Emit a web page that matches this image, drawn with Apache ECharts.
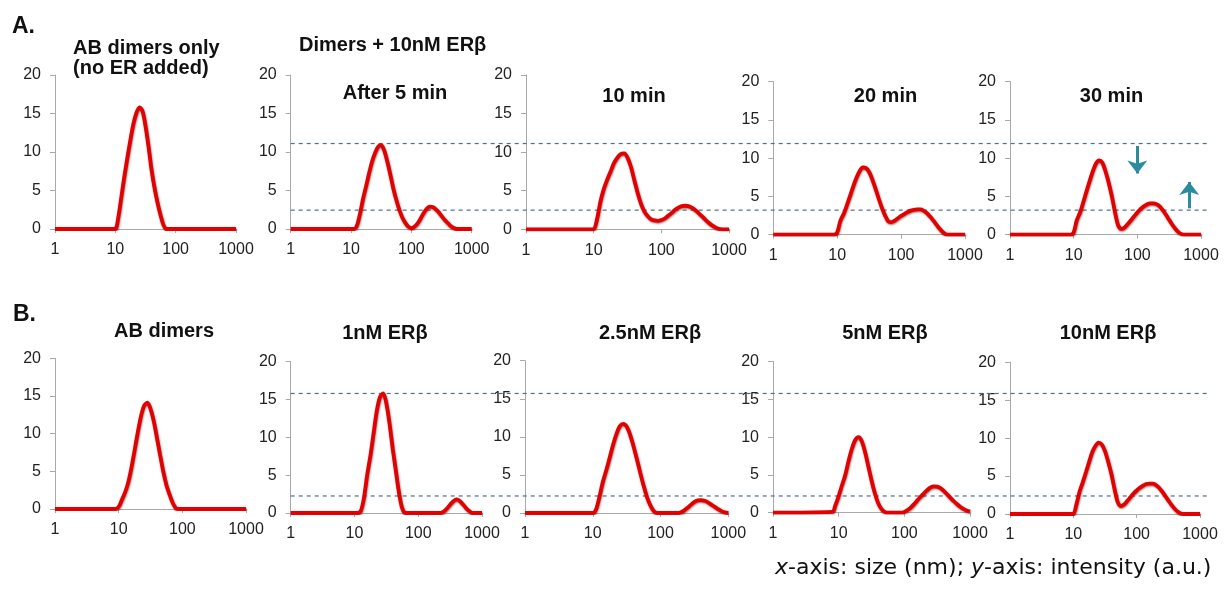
<!DOCTYPE html>
<html>
<head>
<meta charset="utf-8">
<script src="https://cdn.jsdelivr.net/npm/echarts@6/dist/echarts.min.js"></script>
<style>
html,body{margin:0;padding:0;background:#fff;}
#chart{width:1228px;height:589px;}
</style>
</head>
<body>
<div id="chart"></div>
<script>
// ---- data ----
// particle size (nm) sample points: 1, then 10^0.90 ... 10^3.00 in 0.05-decade steps
const sizes = [1, 7.94, 8.91, 10, 11.2, 12.6, 14.1, 15.8, 17.8, 20, 22.4, 25.1, 28.2, 31.6, 35.5, 39.8, 44.7,
  50.1, 56.2, 63.1, 70.8, 79.4, 89.1, 100, 112, 126, 141, 158, 178, 200, 224, 251, 282, 316, 355, 398, 447,
  501, 562, 631, 708, 794, 891, 1000];
const xTickLabels = ['1', '10', '100', '1000'];
const yTicks = [0, 5, 10, 15, 20];

// Row A: AB dimers only, then dimers + 10nM ERβ after 5/10/20/30 min
const dimersOnlyA = [0,0,0,0,1.5,4.2,6.8,9.2,11.6,13.7,15.1,15.8,15.3,13.4,10.7,7.7,5.3,3.4,1.8,0.5,0,
  0,0,0,0,0,0,0,0,0,0,0,0,0,0,0,0,0,0,0,0,0,0,0];
const after5min = [0,0,0,0,0,0.5,2.0,3.9,5.6,7.3,8.8,9.9,10.7,10.9,10.2,8.8,7.1,5.3,3.8,2.5,1.5,0.8,0.3,
  0.1,0.3,0.7,1.3,2.0,2.6,2.9,2.85,2.6,2.2,1.7,1.2,0.8,0.4,0.15,0,0,0,0,0,0];
const after10min = [0,0,0,0,1.3,3.6,5.2,6.4,7.5,8.6,9.3,9.75,9.85,9.3,8.1,6.4,4.7,3.3,2.3,1.7,1.3,1.15,1.1,
  1.2,1.4,1.75,2.1,2.5,2.8,3.0,3.05,3.0,2.8,2.5,2.1,1.7,1.25,0.85,0.5,0.25,0.05,0,0,0];
const after20min = [0,0,0,0.3,1.8,2.7,3.8,5.0,6.3,7.45,8.3,8.8,8.7,8.2,7.2,6.0,4.7,3.5,2.5,1.75,1.65,1.85,2.15,
  2.45,2.7,2.95,3.15,3.25,3.3,3.3,3.15,2.85,2.4,1.9,1.35,0.8,0.35,0.05,0,0,0,0,0,0];
const after30min = [0,0,0,0.3,1.9,2.9,4.2,5.6,7.0,8.3,9.3,9.7,9.4,8.3,6.8,5.0,2.9,1.2,0.75,0.95,1.4,1.9,2.4,
  2.9,3.35,3.7,3.95,4.1,4.1,4.0,3.7,3.2,2.6,1.95,1.3,0.75,0.3,0.05,0,0,0,0,0,0];
// Row B: AB dimers, then 1 / 2.5 / 5 / 10 nM ERβ
const dimersB = [0,0,0,0.3,1.2,2.2,3.5,5.4,7.8,10.2,12.3,13.7,14.1,13.3,11.7,9.5,7.2,5.0,3.2,1.9,0.8,0.1,
  0,0,0,0,0,0,0,0,0,0,0,0,0,0,0,0,0,0,0,0,0,0];
const er1nM = [0,0,0,0,0,0.3,2.0,5.0,7.6,10.6,13.5,15.3,15.8,14.5,11.8,8.5,5.5,2.6,0.6,0,0,0,0,
  0,0,0,0,0,0,0,0,0.2,0.6,1.1,1.55,1.8,1.6,1.15,0.65,0.25,0,0,0,0];
const er2_5nM = [0,0,0,0,0.5,2.2,4.1,5.6,7.3,9.0,10.4,11.4,11.7,11.35,10.3,8.8,7.1,5.3,3.6,2.1,1.0,0.25,0,
  0,0,0,0,0,0,0.1,0.35,0.7,1.1,1.45,1.65,1.7,1.6,1.4,1.1,0.8,0.5,0.25,0.08,0];
const er5nM = [0,0.1,1.0,2.2,3.6,5.0,6.8,8.4,9.6,10,9.5,8.1,6.2,4.3,2.6,1.3,0.5,0.1,0,0,0,0,0,
  0.1,0.35,0.7,1.15,1.65,2.15,2.6,3.0,3.35,3.5,3.45,3.25,2.9,2.45,2.0,1.55,1.15,0.8,0.5,0.3,0.15];
const er10nM = [0,0,0,0,1.3,3.0,4.2,5.5,6.9,8.2,9.0,9.4,9.15,8.3,6.9,5.3,3.3,1.6,1.05,1.25,1.7,2.2,2.7,
  3.1,3.45,3.75,3.95,4.0,4.0,3.85,3.5,3.0,2.4,1.8,1.2,0.7,0.3,0.05,0,0,0,0,0,0];

const refLinesA = [11.1, 2.45];
const refLinesB = [15.8, 2.25];
const arrowDown = [100, 11.6, 8.0];   // x, yStart, yEnd
const arrowUp   = [653, 3.45, 6.9];

const panelTitles = ['AB dimers only\n(no ER added)', 'After 5 min', '10 min', '20 min', '30 min',
                     'AB dimers', '1nM ERβ', '2.5nM ERβ', '5nM ERβ', '10nM ERβ'];

// ---- layout ----
const panels = [
  {v: dimersOnlyA, l: 55,    w: 181,   t: 75,    h: 154},
  {v: after5min,   l: 290.7, w: 181,   t: 75,    h: 154},
  {v: after10min,  l: 526,   w: 203,   t: 75,    h: 154.3},
  {v: after20min,  l: 773.3, w: 191.7, t: 81.7,  h: 153},
  {v: after30min,  l: 1010,  w: 191,   t: 81.7,  h: 153},
  {v: dimersB,     l: 55,    w: 191,   t: 358.3, h: 150.7},
  {v: er1nM,       l: 290.7, w: 191.3, t: 361.7, h: 151.3},
  {v: er2_5nM,     l: 525,   w: 203.3, t: 360.7, h: 152.3},
  {v: er5nM,       l: 773,   w: 197,   t: 361.7, h: 151},
  {v: er10nM,      l: 1010,  w: 190,   t: 362.3, h: 151.7}
];
const titlePos = [
  {left: 73, top: 38, align: 'left'},
  {cx: 395, cy: 93.5}, {cx: 634, cy: 96}, {cx: 885.5, cy: 96}, {cx: 1111.5, cy: 96},
  {cx: 164, cy: 331}, {cx: 385, cy: 333}, {cx: 650, cy: 333}, {cx: 885, cy: 333}, {cx: 1108, cy: 333}
];

const FONT = '"Liberation Sans", Arial, sans-serif';
const axisGrey = '#a9a9a9';
const grids = [], xAxes = [], yAxes = [], series = [], titles = [];

panels.forEach((p, i) => {
  grids.push({left: p.l, top: p.t, width: p.w, height: p.h});
  xAxes.push({
    type: 'log', logBase: 10, min: 1, max: 1000, gridIndex: i, splitNumber: 3,
    axisLine: {show: true, lineStyle: {color: axisGrey, width: 1}},
    axisTick: {show: true, length: 4, lineStyle: {color: axisGrey}},
    splitLine: {show: false}, minorTick: {show: false},
    axisLabel: {color: '#222', fontFamily: FONT, fontSize: 16, margin: 13,
      formatter: v => { const k = Math.round(Math.log10(v)); return xTickLabels[k] !== undefined ? xTickLabels[k] : ''; }}
  });
  yAxes.push({
    type: 'value', min: yTicks[0], max: yTicks[yTicks.length - 1], interval: 5, gridIndex: i,
    axisLine: {show: true, lineStyle: {color: axisGrey, width: 1}},
    axisTick: {show: true, length: 5, lineStyle: {color: axisGrey}},
    splitLine: {show: false},
    axisLabel: {color: '#222', fontFamily: FONT, fontSize: 16, margin: 14}
  });
  const s = {
    type: 'line', xAxisIndex: i, yAxisIndex: i, smooth: 0.3, showSymbol: false, symbol: 'none',
    data: sizes.map((x, k) => [x, p.v[k]]),
    lineStyle: {color: '#e30000', width: 3.8, shadowColor: 'rgba(60,0,0,0.55)', shadowBlur: 2, shadowOffsetX: 0.5, shadowOffsetY: 1},
    z: 5
  };
  if (i === 4) {
    s.markLine = {
      silent: true, symbol: ['none', 'arrow'], symbolSize: [15, 13],
      label: {show: false},
      lineStyle: {color: '#2b8c9e', width: 3, type: 'solid'},
      data: [
        [{coord: [arrowDown[0], arrowDown[1]]}, {coord: [arrowDown[0], arrowDown[2]]}],
        [{coord: [arrowUp[0], arrowUp[1]]}, {coord: [arrowUp[0], arrowUp[2]]}]
      ]
    };
  }
  series.push(s);

  const tp = titlePos[i];
  if (tp.align === 'left') {
    titles.push({text: panelTitles[i], left: tp.left, top: tp.top, padding: 0,
      textStyle: {fontFamily: FONT, fontSize: 20, fontWeight: 'bold', color: '#111', lineHeight: 20}});
  } else {
    titles.push({text: panelTitles[i], left: tp.cx, top: tp.cy - 10, textAlign: 'center', padding: 0,
      textStyle: {fontFamily: FONT, fontSize: 20, fontWeight: 'bold', color: '#111'}});
  }
});

// dashed reference-line overlay grids (one per row)
const overlays = [
  {ref: refLinesA, l: 290.7, w: 918.3, t: 75, h: 154},
  {ref: refLinesB, l: 290.7, w: 918.3, t: 361.7, h: 151.3}
];
overlays.forEach(o => {
  const gi = grids.length;
  grids.push({left: o.l, top: o.t, width: o.w, height: o.h});
  xAxes.push({type: 'value', min: 0, max: 1, gridIndex: gi, show: false});
  yAxes.push({type: 'value', min: 0, max: 20, gridIndex: gi, show: false});
  o.ref.forEach(v => {
    series.push({type: 'line', xAxisIndex: gi, yAxisIndex: gi, showSymbol: false, symbol: 'none', silent: true,
      data: [[0, v], [1, v]],
      lineStyle: {color: '#50708a', width: 1.2, type: [4, 4]}, z: 3});
  });
});

titles.push({text: 'Dimers + 10nM ERβ', left: 299, top: 35, padding: 0,
  textStyle: {fontFamily: FONT, fontSize: 20, fontWeight: 'bold', color: '#111'}});
titles.push({text: 'A.', left: 12, top: 15, padding: 0,
  textStyle: {fontFamily: FONT, fontSize: 23, fontWeight: 'bold', color: '#111'}});
titles.push({text: 'B.', left: 13, top: 303, padding: 0,
  textStyle: {fontFamily: FONT, fontSize: 23, fontWeight: 'bold', color: '#111'}});
const CAPFONT = '"DejaVu Sans", sans-serif';
titles.push({text: '{i|x}-axis: size (nm); {i|y}-axis: intensity (a.u.)', left: 775, top: 557, padding: 0,
  textStyle: {fontFamily: CAPFONT, fontSize: 22, fontWeight: 'normal', color: '#111',
    rich: {i: {fontFamily: CAPFONT, fontSize: 22, fontWeight: 'normal', fontStyle: 'italic', color: '#111'}}}});

const chart = echarts.init(document.getElementById('chart'), null, {renderer: 'canvas'});
chart.setOption({
  animation: false,
  backgroundColor: '#fff',
  title: titles,
  grid: grids,
  xAxis: xAxes,
  yAxis: yAxes,
  series: series
});
</script>
</body>
</html>
